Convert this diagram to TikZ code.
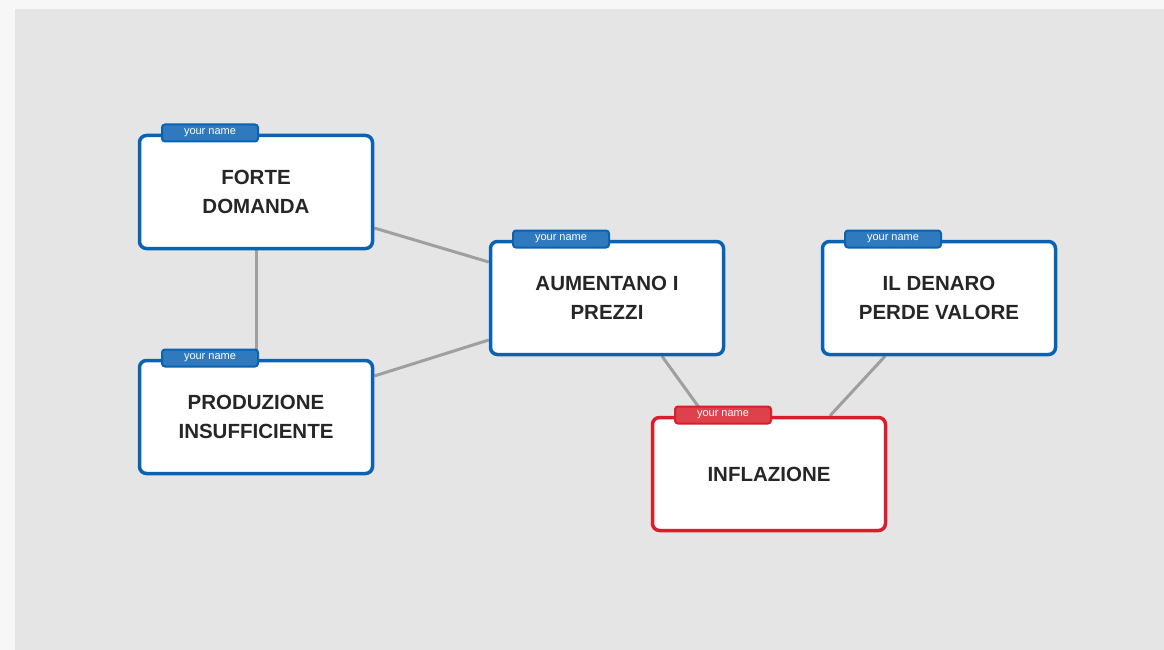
\documentclass[tikz,border=0pt]{standalone}
\usepackage{fontspec}
\setmainfont{Liberation Sans}
\pgfdeclarelayer{bg}
\pgfsetlayers{bg,main}
\begin{document}
\begin{tikzpicture}[x=1pt,y=-1pt,
  box/.style={draw=#1, line width=3.5pt, rounded corners=7pt, fill=white,
    minimum width=233pt, minimum height=113pt, inner sep=0pt, align=center,
    font=\bfseries\fontsize{20.5}{29}\selectfont, text=black!85},
  tag/.style={fill=#1!85!white, draw=#1, line width=2pt, rounded corners=3pt, minimum width=96pt, minimum height=17pt,
    inner sep=0pt, text=white, font=\fontsize{11}{11}\selectfont},
  link/.style={draw=gray!75, line width=3pt}]
\useasboundingbox (0,0) rectangle (1164,650);
\definecolor{bl}{HTML}{0A63B2}
\definecolor{rd}{HTML}{D81E2C}
\begin{pgfonlayer}{bg}
\fill[white!97!black] (0,0) rectangle (1164,650);
\fill[gray!20] (15,9) rectangle (1164,650);
\end{pgfonlayer}
\node[box=bl] (fd) at (256,192) {FORTE\\DOMANDA};
\node[box=bl] (pi) at (256,417) {PRODUZIONE\\INSUFFICIENTE};
\node[box=bl] (ap) at (607,298) {AUMENTANO I\\PREZZI};
\node[box=bl] (dv) at (939,298) {IL DENARO\\PERDE VALORE};
\node[box=rd] (in) at (769,474) {INFLAZIONE};
\node[tag=bl] (t1) at (210,133) {your name};
\node[tag=bl] (t2) at (210,358) {your name};
\node[tag=bl] (t3) at (561,239) {your name};
\node[tag=bl] (t4) at (893,239) {your name};
\node[tag=rd] (t5) at (723,415) {your name};
\begin{pgfonlayer}{bg}
\draw[link] (fd.south) -- (pi.north);
\draw[link] (fd.east |- 0,228) -- (ap.west |- 0,262);
\draw[link] (pi.east |- 0,376) -- (ap.west |- 0,340);
\draw[link] ([xshift=55pt]ap.south) -- ([xshift=-64pt]in.north);
\draw[link] ([xshift=-54pt]dv.south) -- ([xshift=61pt]in.north);
\end{pgfonlayer}
\end{tikzpicture}
\end{document}
